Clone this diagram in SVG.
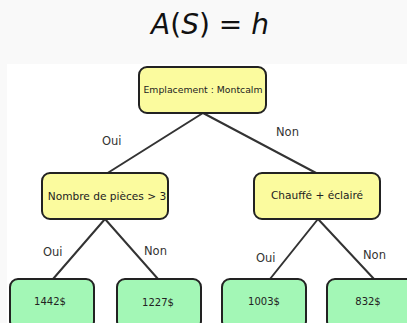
<svg xmlns="http://www.w3.org/2000/svg" width="407" height="323" viewBox="0 0 407 323">
<style>
text{font-family:"DejaVu Sans","Liberation Sans",sans-serif;fill:#222}
.box{stroke:#222;stroke-width:2}
.y{fill:#fbfb9e}
.g{fill:#a3f7b6}
.edge{stroke:#333;stroke-width:2;fill:none}
.lbl{font-size:11.5px;fill:#333}
.t{text-anchor:middle}
</style>
<rect x="0" y="0" width="407" height="323" fill="#f9f9f9"/>
<rect x="7" y="64" width="400" height="259" fill="#ffffff"/>
<text x="210" y="34" class="t" style="font-size:28px;fill:#111"><tspan font-style="italic">A</tspan>(<tspan font-style="italic">S</tspan>) = <tspan font-style="italic">h</tspan></text>
<g id="connectors">
<path class="edge" d="M203 113 L106 174 M203 113 L318 174 M105 219 L53 279 M105 219 L158 279 M318 219 L270 279 M318 219 L374 279"/>
<text class="lbl" x="102" y="145">Oui</text>
<text class="lbl" x="276" y="136">Non</text>
<text class="lbl" x="43" y="256">Oui</text>
<text class="lbl" x="144" y="255">Non</text>
<text class="lbl" x="256" y="262">Oui</text>
<text class="lbl" x="363" y="259">Non</text>
</g>
<g id="root"><rect class="box y" x="139" y="67" width="127" height="46" rx="8"/><text class="t" x="203" y="93" style="font-size:9.3px">Emplacement : Montcalm</text></g>
<g id="left"><rect class="box y" x="42" y="173" width="126" height="46" rx="8"/><text class="t" x="107" y="200" style="font-size:10.6px">Nombre de pièces &gt; 3</text></g>
<g id="right"><rect class="box y" x="254" y="173" width="126" height="46" rx="8"/><text class="t" x="317" y="199" style="font-size:10.6px">Chauffé + éclairé</text></g>
<g id="leaf1"><rect class="box g" x="10" y="279" width="84" height="50" rx="8"/><text class="t" x="50" y="305" style="font-size:10px">1442$</text></g>
<g id="leaf2"><rect class="box g" x="117" y="279" width="84" height="50" rx="8"/><text class="t" x="158" y="306" style="font-size:10px">1227$</text></g>
<g id="leaf3"><rect class="box g" x="222" y="279" width="84" height="50" rx="8"/><text class="t" x="264" y="305" style="font-size:10px">1003$</text></g>
<g id="leaf4"><rect class="box g" x="327" y="279" width="88" height="50" rx="8"/><text class="t" x="368" y="305" style="font-size:10px">832$</text></g>
</svg>
